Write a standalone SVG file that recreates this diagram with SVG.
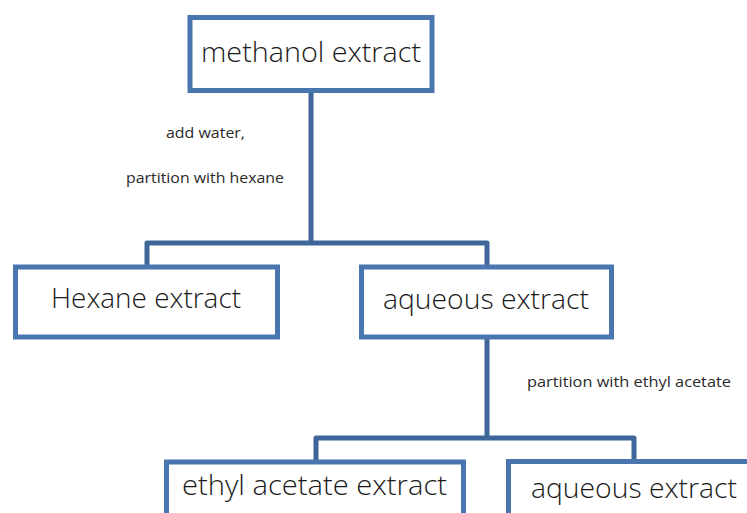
<svg xmlns="http://www.w3.org/2000/svg" width="747" height="513" viewBox="0 0 747 513">
<style>
.box{fill:#fff;stroke:#4a76b0;stroke-width:5}
.con{fill:none;stroke:#3f6699;stroke-width:5;stroke-linejoin:round}
.big{font-family:"Open Sans","Noto Sans",sans-serif;font-weight:300;font-size:28px;fill:#1a1a1a}
.small{font-family:"Open Sans","Noto Sans",sans-serif;font-weight:400;font-size:14.5px;fill:#2a2a2a}
</style>
<rect width="747" height="513" fill="#fff"/>
<g id="connectors">
<path class="con" d="M311 92 V243 M147 267 V243 H487 V267"/>
<path class="con" d="M487 339 V438 M316 462 V438 H634 V461"/>
</g>
<g id="labels">
<text class="small" x="166" y="138" textLength="79" lengthAdjust="spacingAndGlyphs">add water,</text>
<text class="small" x="126" y="183" textLength="158" lengthAdjust="spacingAndGlyphs">partition with hexane</text>
<text class="small" x="527" y="387" textLength="204" lengthAdjust="spacingAndGlyphs">partition with ethyl acetate</text>
</g>
<g id="methanol">
<rect class="box" x="190" y="17.5" width="242" height="73"/>
<text class="big" x="201" y="62" textLength="220" lengthAdjust="spacingAndGlyphs">methanol extract</text>
</g>
<g id="hexane">
<rect class="box" x="15.5" y="267" width="262" height="70"/>
<text class="big" x="51" y="308" textLength="190" lengthAdjust="spacingAndGlyphs">Hexane extract</text>
</g>
<g id="aqueous1">
<rect class="box" x="361.5" y="267" width="250" height="70"/>
<text class="big" x="383" y="309" textLength="206" lengthAdjust="spacingAndGlyphs">aqueous extract</text>
</g>
<g id="ethyl">
<rect class="box" x="166.5" y="462" width="297" height="80"/>
<text class="big" x="182" y="495" textLength="265" lengthAdjust="spacingAndGlyphs">ethyl acetate extract</text>
</g>
<g id="aqueous2">
<rect class="box" x="508.5" y="461.5" width="280" height="80"/>
<text class="big" x="531" y="498" textLength="206" lengthAdjust="spacingAndGlyphs">aqueous extract</text>
</g>
</svg>
